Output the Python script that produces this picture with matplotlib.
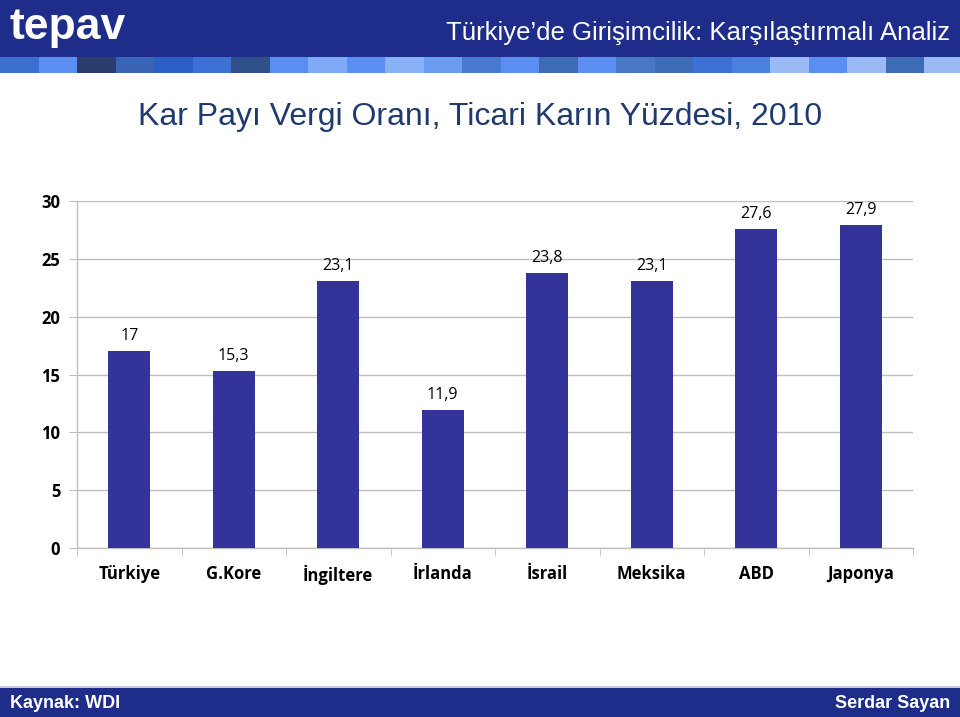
import matplotlib
matplotlib.use("Agg")
import matplotlib.pyplot as plt
from matplotlib.patches import Rectangle

categories = ["Türkiye", "G.Kore", "İngiltere", "İrlanda", "İsrail", "Meksika", "ABD", "Japonya"]
values = [17, 15.3, 23.1, 11.9, 23.8, 23.1, 27.6, 27.9]
value_labels = ["17", "15,3", "23,1", "11,9", "23,8", "23,1", "27,6", "27,9"]
yticks = [0, 5, 10, 15, 20, 25, 30]

W, H = 960, 717
fig = plt.figure(figsize=(9.6, 7.17), dpi=100)
fig.patch.set_facecolor("white")

# header band
fig.patches.append(Rectangle((0, 1 - 57 / H), 1, 57 / H, transform=fig.transFigure,
                             facecolor="#1f2d8a", edgecolor="none", zorder=0))
strip = ["#3a6fd0", "#5b8ef0", "#2b3d6b", "#3a64b5", "#2d5ec8", "#3c70d5", "#2e4f8a",
         "#5b8ef0", "#80aaf5", "#5b8ef0", "#8ab0f5", "#6b9cf0", "#4a7ad0", "#5b8ef0",
         "#3f6ab5", "#5b8ef0", "#4a78c8", "#3f6ab5", "#3c70d5", "#4a80e0", "#9bbaf5",
         "#5b8ef0", "#9bbaf5", "#3f6ab5", "#9bbaf5"]
bw = 38.5
for i, c in enumerate(strip):
    fig.patches.append(Rectangle((i * bw / W, 1 - 73 / H), bw / W, 16 / H,
                                 transform=fig.transFigure, facecolor=c,
                                 edgecolor="none", zorder=0))
fig.text(10 / W, 1 - 27 / H, "tepav", color="white", fontsize=32,
         fontweight="bold", family="Liberation Sans", va="center", ha="left")
fig.text(950 / W, 1 - 33 / H, "Türkiye’de Girişimcilik: Karşılaştırmalı Analiz", color="white",
         fontsize=18.5, family="Liberation Sans", va="center", ha="right")

# title
fig.text(480 / W, 1 - 117 / H, "Kar Payı Vergi Oranı, Ticari Karın Yüzdesi, 2010",
         color="#1f3a6e", fontsize=23, family="Liberation Sans", va="center", ha="center")

# footer
fig.patches.append(Rectangle((0, 0), 1, 29 / H, transform=fig.transFigure,
                             facecolor="#1f2d8a", edgecolor="none", zorder=0))
fig.patches.append(Rectangle((0, 29 / H), 1, 2 / H, transform=fig.transFigure,
                             facecolor="#c8cce0", edgecolor="none", zorder=0))
fig.text(10 / W, 13 / H, "Kaynak: WDI", color="white", fontsize=13,
         fontweight="bold", family="Liberation Sans", va="center", ha="left")
fig.text(950 / W, 13 / H, "Serdar Sayan", color="white", fontsize=13,
         fontweight="bold", family="Liberation Sans", va="center", ha="right")

# chart
ax = fig.add_axes([77 / W, 1 - 548 / H, (913 - 77) / W, (548 - 201) / H])
x = list(range(len(categories)))
ax.bar(x, values, width=0.4, color="#333399", zorder=3)
ax.set_xlim(-0.5, len(categories) - 0.5)
ax.set_ylim(0, 30)
ax.set_yticks(yticks)
ax.set_yticklabels([str(t) for t in yticks], fontsize=12, family="Open Sans", fontweight="bold")
ax.grid(axis="y", color="#bfbfbf", linewidth=1, zorder=0)
ax.set_xticks(x)
ax.set_xticklabels(categories, fontsize=12, family="Open Sans", fontweight="bold")
ax.tick_params(axis="x", length=0, pad=12)
ax.tick_params(axis="y", length=6, color="#bfbfbf", pad=6)
ax.set_xticks([i - 0.5 for i in range(len(categories) + 1)], minor=True)
ax.tick_params(axis="x", which="minor", length=6, color="#bfbfbf", direction="out")
for s in ["top", "right"]:
    ax.spines[s].set_visible(False)
for s in ["left", "bottom"]:
    ax.spines[s].set_color("#bfbfbf")
    ax.spines[s].set_linewidth(1)

for xi, v, lab in zip(x, values, value_labels):
    ax.annotate(lab, (xi, v), xytext=(0, 5), textcoords="offset points", ha="center",
                va="bottom", fontsize=11.5, family="Open Sans")

fig.savefig("out.png", dpi=100)
